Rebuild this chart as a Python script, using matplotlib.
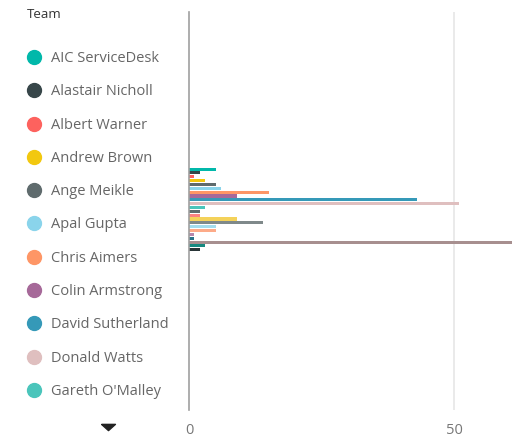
import matplotlib
matplotlib.use("Agg")
import matplotlib.pyplot as plt
import numpy as np
from matplotlib.lines import Line2D

# Series (one bar per team, single category); legend shows first page only
teams = [
    "AIC ServiceDesk", "Alastair Nicholl", "Albert Warner", "Andrew Brown",
    "Ange Meikle", "Apal Gupta", "Chris Aimers", "Colin Armstrong",
    "David Sutherland", "Donald Watts", "Gareth O'Malley",
    "Team 12", "Team 13", "Team 14", "Team 15", "Team 16", "Team 17",
    "Team 18", "Team 19", "Team 20", "Team 21", "Team 22",
]
values = [5, 2, 1, 3, 5, 6, 15, 9, 43, 51, 3,
          2, 2, 9, 14, 5, 5, 1, 1, 61, 3, 2]
colors = [
    "#01B8AA", "#374649", "#FD625E", "#F2C80F", "#5F6B6D", "#8AD4EB",
    "#FE9666", "#A66999", "#3599B8", "#DFBFBF", "#4AC5BB", "#5F6B6D",
    "#FB8281", "#F4D25A", "#7F898A", "#A4DDEE", "#FDAB89", "#B687AC",
    "#28738A", "#A78F8F", "#168980", "#293537",
]
legend_count = 11
x_ticks = [0, 50]

W, H = 519, 437
fig = plt.figure(figsize=(W / 100, H / 100), dpi=100)
plt.rcParams["font.family"] = ["Open Sans", "DejaVu Sans"]

left, right, top, bottom = 189, 513, 12, 410
ax = fig.add_axes([left / W, 1 - bottom / H, (right - left) / W, (bottom - top) / H])

n = len(values)
pitch = 3.84 / (bottom - top)
offsets = (np.arange(n) - (n - 1) / 2) * pitch
ax.barh(-offsets, values, height=pitch * 0.8, color=colors, linewidth=0)

ax.set_ylim(-0.5 - 0.004, 0.5 - 0.004)
ax.set_xlim(0, 61.1)
ax.set_yticks([])
ax.set_xticks(x_ticks)
ax.set_xticklabels([str(t) for t in x_ticks], color="#777777", fontsize=10.5)
ax.tick_params(axis="x", length=0, pad=9)
for s in ["top", "right", "bottom"]:
    ax.spines[s].set_visible(False)
ax.spines["left"].set_color("#A0A0A0")
ax.spines["left"].set_linewidth(1.2)
ax.axvline(50, color="#E6E6E6", linewidth=1.2, zorder=0)

# legend
fig.text(27 / W, 1 - 14 / H, "Team", ha="left", va="center", fontsize=9.5, color="#333333")
for i in range(legend_count):
    y = 57 + i * 33.3
    fig.add_artist(Line2D([34 / W], [1 - y / H], marker="o", markersize=10,
                          color=colors[i], linestyle="none", transform=fig.transFigure))
    fig.text(51 / W, 1 - (y + 1.5) / H, teams[i], ha="left", va="center",
             fontsize=10.5, color="#666666")

# legend page-down arrow
tri = [(-1, 0.45), (1, 0.45), (0, -0.45), (-1, 0.45)]
fig.add_artist(Line2D([108 / W], [1 - 427 / H], marker=tri, markersize=10,
                      color="#222222", linestyle="none", transform=fig.transFigure))

fig.savefig("out.png", dpi=100)
